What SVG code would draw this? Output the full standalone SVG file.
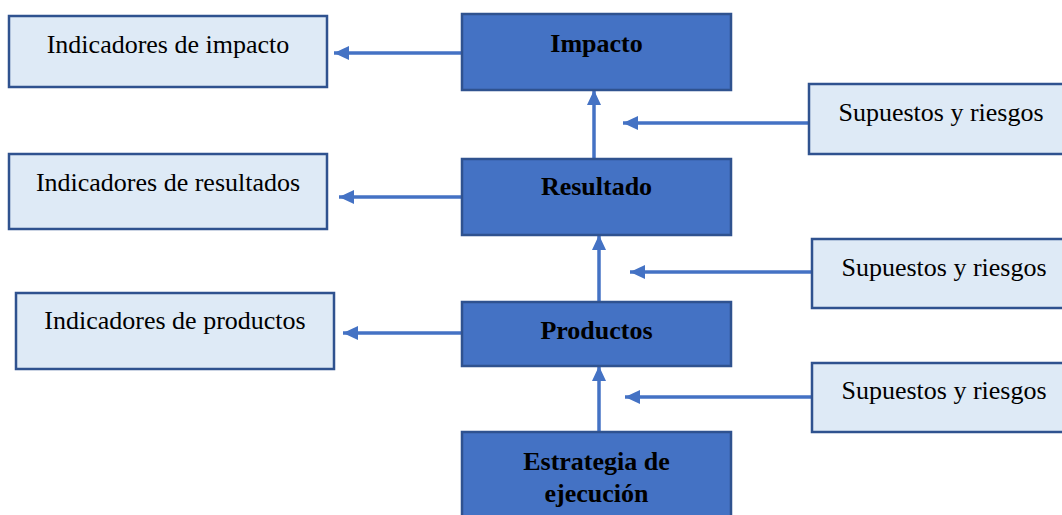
<svg xmlns="http://www.w3.org/2000/svg" width="1062" height="515" viewBox="0 0 1062 515">
<style>
.light{fill:#DEEAF6;stroke:#2F528F;stroke-width:2.5}
.dark{fill:#4472C4;stroke:#2F528F;stroke-width:2.5}
.t{font-size:26px;fill:#000;text-anchor:middle}
.b{font-weight:bold}
.c{stroke:#4472C4;stroke-width:3.5;fill:none;marker-end:url(#ah)}
</style>
<defs>
<marker id="ah" markerUnits="userSpaceOnUse" viewBox="0 0 15 14" markerWidth="15" markerHeight="14" refX="15" refY="7" orient="auto">
<path d="M0,0 L15,7 L0,14 z" fill="#4472C4"/>
</marker>
</defs>
<rect width="1062" height="515" fill="#fff"/>
<g id="connectors">
<line class="c" x1="594" y1="159" x2="594" y2="90"/>
<line class="c" x1="599" y1="302" x2="599" y2="235"/>
<line class="c" x1="599" y1="432" x2="599" y2="366"/>
<line class="c" x1="809" y1="123" x2="623" y2="123"/>
<line class="c" x1="812" y1="272" x2="630" y2="272"/>
<line class="c" x1="812" y1="397" x2="625" y2="397"/>
<line class="c" x1="462" y1="53" x2="334" y2="53"/>
<line class="c" x1="462" y1="197" x2="339" y2="197"/>
<line class="c" x1="462" y1="333" x2="343" y2="333"/>
</g>
<g font-family="Liberation Serif, DejaVu Serif, serif">
<g id="ind-impacto"><rect class="light" x="9" y="16" width="318" height="71"/><text class="t" x="168" y="53">Indicadores de impacto</text></g>
<g id="impacto"><rect class="dark" x="462" y="14" width="269" height="76"/><text class="t b" x="596.5" y="52">Impacto</text></g>
<g id="supuestos1"><rect class="light" x="809" y="84" width="264" height="70"/><text class="t" x="941" y="121">Supuestos y riesgos</text></g>
<g id="ind-resultados"><rect class="light" x="9" y="154" width="318" height="75"/><text class="t" x="168" y="191">Indicadores de resultados</text></g>
<g id="resultado"><rect class="dark" x="462" y="159" width="269" height="76"/><text class="t b" x="596.5" y="195">Resultado</text></g>
<g id="supuestos2"><rect class="light" x="812" y="239" width="264" height="69"/><text class="t" x="944" y="276">Supuestos y riesgos</text></g>
<g id="ind-productos"><rect class="light" x="16" y="293" width="318" height="76"/><text class="t" x="175" y="329">Indicadores de productos</text></g>
<g id="productos"><rect class="dark" x="462" y="302" width="269" height="64"/><text class="t b" x="596.5" y="339">Productos</text></g>
<g id="supuestos3"><rect class="light" x="812" y="363" width="264" height="69"/><text class="t" x="944" y="399">Supuestos y riesgos</text></g>
<g id="estrategia"><rect class="dark" x="462" y="432" width="269" height="100"/><text class="t b" x="596.5" y="470">Estrategia de</text><text class="t b" x="596.5" y="502">ejecución</text></g>
</g>
</svg>
